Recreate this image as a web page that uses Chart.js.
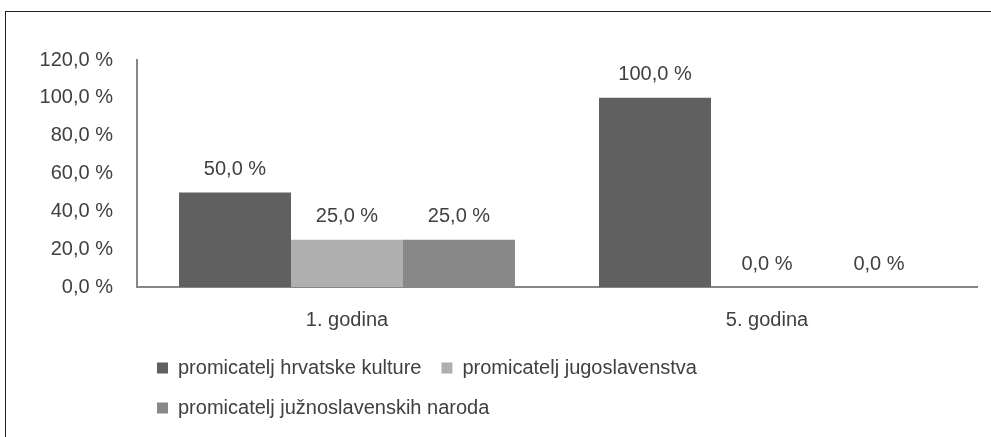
<!DOCTYPE html>
<html>
<head>
<meta charset="utf-8">
<script src="https://cdn.jsdelivr.net/npm/chart.js@4"></script>
<style>
  body { margin: 0; background: #fff; overflow: hidden; }
  #frame { position: absolute; left: 5px; top: 11px; width: 1000px; height: 450px; border: 1px solid #222; }
  #wrap { position: absolute; left: 0; top: 0; width: 991px; height: 437px; }
</style>
</head>
<body>
<div id="frame"></div>
<div id="wrap"><canvas id="myChart"></canvas></div>
<script>
// data
const categories = ['1. godina', '5. godina'];
const seriesNames = ['promicatelj hrvatske kulture', 'promicatelj jugoslavenstva', 'promicatelj južnoslavenskih naroda'];
const hrvatskeKulture = [50, 100];
const jugoslavenstva = [25, 0];
const juznoslavenskih = [25, 0];
const yTicks = [0, 20, 40, 60, 80, 100, 120];

const colors = ['#606060', '#afafaf', '#888888'];
const textColor = '#404040';
const fontFamily = "'Liberation Sans', Arial, sans-serif";
const fontSize = 20;

const fmt = v => v.toFixed(1).replace('.', ',') + ' %';

// value labels above bars
const valueLabels = {
    id: 'valueLabels',
    afterDatasetsDraw(chart) {
        const ctx = chart.ctx;
        ctx.save();
        ctx.font = fontSize + 'px ' + fontFamily;
        ctx.fillStyle = textColor;
        ctx.textAlign = 'center';
        ctx.textBaseline = 'middle';
        chart.data.datasets.forEach((ds, i) => {
            chart.getDatasetMeta(i).data.forEach((bar, j) => {
                ctx.fillText(fmt(ds.data[j]), bar.x, bar.y - 23);
            });
        });
        ctx.restore();
    }
};

const data = {
    labels: categories,
    datasets: [
        { label: seriesNames[0], data: hrvatskeKulture, backgroundColor: colors[0] },
        { label: seriesNames[1], data: jugoslavenstva, backgroundColor: colors[1] },
        { label: seriesNames[2], data: juznoslavenskih, backgroundColor: colors[2] }
    ]
};

const config = {
    type: 'bar',
    data: data,
    options: {
        responsive: true,
        maintainAspectRatio: false,
        animation: false,
        datasets: { bar: { categoryPercentage: 0.8, barPercentage: 1.0 } },
        layout: { padding: { top: 60, right: 14, bottom: 9, left: 0 } },
        scales: {
            x: {
                afterFit: s => { s.height = 51; },
                grid: { display: false, drawTicks: false },
                border: { color: '#868686', width: 2 },
                ticks: { color: textColor, font: { size: fontSize, family: fontFamily }, padding: 21 }
            },
            y: {
                min: 0,
                max: 120,
                afterFit: s => { s.width = 137; },
                afterBuildTicks: s => { s.ticks = yTicks.map(v => ({ value: v })); },
                grid: { display: false, drawTicks: false },
                border: { color: '#868686', width: 2 },
                ticks: { color: textColor, font: { size: fontSize, family: fontFamily }, padding: 24, callback: v => fmt(v) }
            }
        },
        plugins: {
            tooltip: { enabled: false },
            legend: {
                position: 'bottom',
                align: 'start',
                fullSize: false,
                labels: {
                    color: textColor,
                    font: { size: fontSize, family: fontFamily },
                    boxWidth: 11,
                    boxHeight: 11,
                    padding: 20
                }
            }
        }
    },
    plugins: [valueLabels]
};

const myChart = new Chart(document.getElementById('myChart'), config);
</script>
</body>
</html>
